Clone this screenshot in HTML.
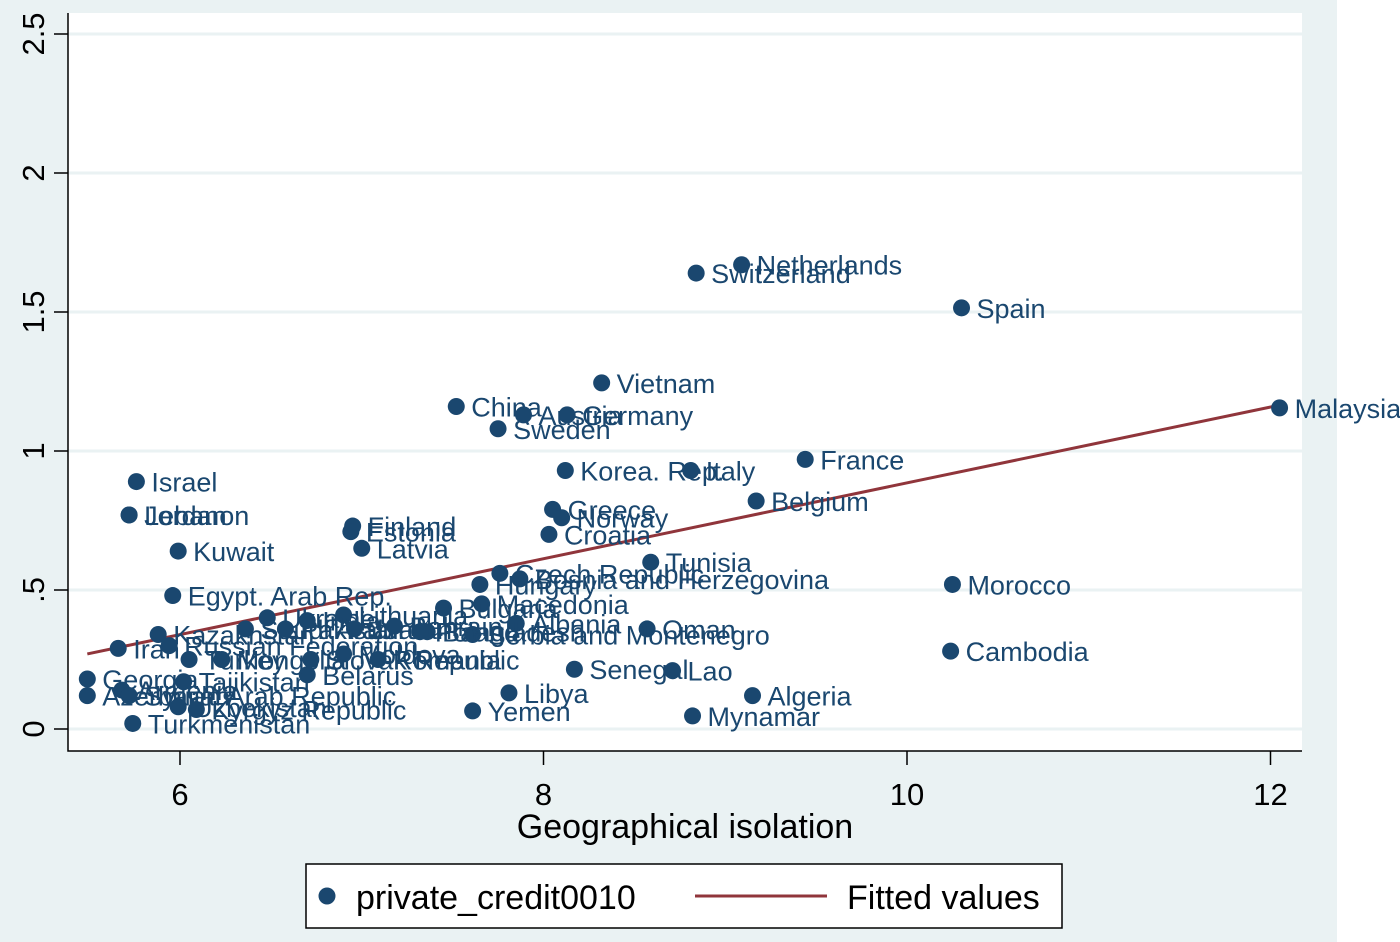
<!DOCTYPE html>
<html><head><meta charset="utf-8"><style>
html,body{margin:0;padding:0;background:#fff;}
svg{display:block;font-family:"Liberation Sans",Arial,sans-serif;}
</style></head><body>
<svg id="chart" width="1400" height="942" viewBox="0 0 1400 942">
<rect x="0" y="0" width="1337" height="942" fill="#eaf2f3"/>
<rect x="68" y="13" width="1234" height="738" fill="#ffffff"/>
<g id="grid"></g><g id="axes"></g><g id="fit"></g><g id="pts"></g>
<text x="685" y="838" font-size="34" text-anchor="middle" fill="#000">Geographical isolation</text>
<g>
<rect x="306" y="864" width="756" height="64" fill="#fff" stroke="#000" stroke-width="1.5"/>
<circle cx="327" cy="896" r="8.5" fill="#1a476f"/>
<text x="356" y="909" font-size="34" fill="#000">private_credit0010</text>
<line x1="695" y1="896" x2="827" y2="896" stroke="#90353b" stroke-width="3"/>
<text x="847" y="909" font-size="34" fill="#000">Fitted values</text>
</g>
</svg>
<script>
const names=["Malaysia","Netherlands","Switzerland","Spain","Vietnam","China","Austria","Germany","Sweden","Korea. Rep.","Italy","France","Belgium","Israel","Jordan","Lebanon","Kuwait","Finland","Estonia","Latvia","Greece","Norway","Croatia","Tunisia","Czech Republic","Bosnia and Herzegovina","Hungary","Macedonia","Bulgaria","Albania","Oman","Serbia and Montenegro","Morocco","Cambodia","Senegal","Lao","Libya","Yemen","Algeria","Mynamar","Egypt. Arab Rep.","Kazakhstan","Iran","Russian Federation","Turkey","Georgia","Azerbaijan","Armenia","Syrian Arab Republic","Tajikistan","Uzbekistan","Kyrgyz Republic","Turkmenistan","Belarus","Ukraine","Lithuania","Saudi Arabia","Pakistan","India","Jordan ","Bahrain","Bangladesh","Poland","Mongolia","Slovak Republic","Moldova","Romania"];
const xs=[12.05,9.09,8.84,10.30,8.32,7.52,7.89,8.13,7.75,8.12,8.81,9.44,9.17,5.76,5.72,5.72,5.99,6.95,6.94,7.00,8.05,8.10,8.03,8.59,7.76,7.87,7.65,7.66,7.45,7.85,8.57,7.61,10.25,10.24,8.17,8.71,7.81,7.61,9.15,8.82,5.96,5.88,5.66,5.94,6.05,5.49,5.49,5.68,5.72,6.02,5.99,6.09,5.74,6.70,6.48,6.90,6.36,6.58,6.70,6.96,7.18,7.36,7.32,6.23,6.72,6.90,7.09];
const ys=[1.155,1.67,1.64,1.515,1.245,1.16,1.13,1.13,1.08,0.93,0.93,0.97,0.82,0.89,0.77,0.77,0.64,0.73,0.71,0.65,0.79,0.76,0.70,0.60,0.56,0.54,0.52,0.45,0.435,0.38,0.36,0.34,0.52,0.28,0.215,0.21,0.13,0.065,0.12,0.047,0.48,0.34,0.29,0.30,0.25,0.18,0.12,0.14,0.12,0.17,0.08,0.07,0.02,0.195,0.40,0.41,0.36,0.36,0.39,0.36,0.37,0.35,0.35,0.25,0.25,0.27,0.25];
const xTicks=[6,8,10,12];
const yTicks=[0,0.5,1,1.5,2,2.5];
const yTickLabels=["0",".5","1","1.5","2","2.5"];
const fitX=[5.49,12.05];
const fitY=[0.27,1.165];
const X=v=>180+(v-6)*181.75, Y=v=>729-v*278;
const NS="http://www.w3.org/2000/svg";
function mk(p,t,a){const e=document.createElementNS(NS,t);for(const k in a)e.setAttribute(k,a[k]);p.appendChild(e);return e;}
const grid=document.getElementById('grid'),axes=document.getElementById('axes'),fit=document.getElementById('fit'),pts=document.getElementById('pts');
yTicks.forEach((v,i)=>{
 const g=mk(grid,'line',{x1:68,x2:1302,y1:Y(v),y2:Y(v),stroke:'#eaf2f3','stroke-width':3});
 
 
 const t=mk(axes,'line',{x1:54,x2:68,y1:Y(v),y2:Y(v),stroke:'#000','stroke-width':1.5});
 
 
 const l=mk(axes,'text',{x:0,y:0,'font-size':31,'text-anchor':'middle',transform:`translate(44,${Y(v)}) rotate(-90)`});
 l.textContent=yTickLabels[i];
 
 
});
xTicks.forEach(v=>{
 const t=mk(axes,'line',{x1:X(v),x2:X(v),y1:751,y2:765,stroke:'#000','stroke-width':1.5});
 
 
 const l=mk(axes,'text',{x:X(v),y:805,'font-size':31,'text-anchor':'middle'});
 l.textContent=v;
 
 
});
const ax=mk(axes,'path',{d:'M68 13 V751 H1302',fill:'none',stroke:'#000','stroke-width':1.5});


const fl=mk(fit,'line',{x1:X(fitX[0]),y1:Y(fitY[0]),x2:X(fitX[1]),y2:Y(fitY[1]),stroke:'#90353b','stroke-width':3});


names.forEach((n,i)=>{
 const c=mk(pts,'circle',{cx:X(xs[i]),cy:Y(ys[i]),r:8.5,fill:'#1a476f'});
 
 
 const t=mk(pts,'text',{x:X(xs[i])+15,y:Y(ys[i])+10,'font-size':27,fill:'#1a476f'});
 t.textContent=n.trim();
 
 
});
</script>
</body></html>
